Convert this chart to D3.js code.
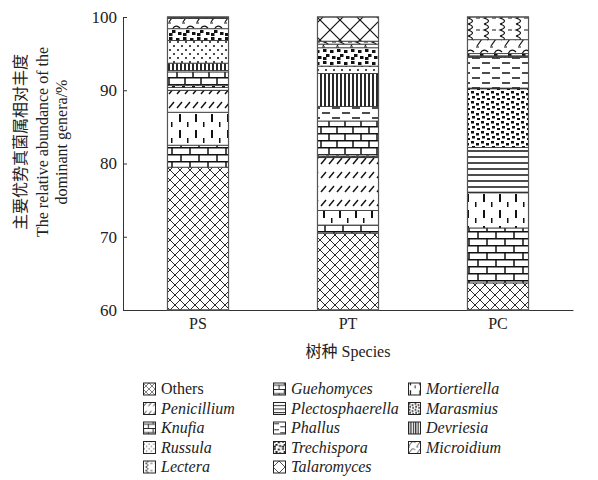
<!DOCTYPE html>
<html>
<head>
<meta charset="utf-8">
<script src="https://cdn.jsdelivr.net/npm/d3@7"></script>
<style>
body { margin: 0; background: #fff; }
text { font-family: "Liberation Serif", "Noto Sans CJK SC", serif; fill: #222; }
</style>
</head>
<body>
<div id="chart"></div>
<script>
// stacking order, bottom to top
const species = ["PS", "PT", "PC"]
const genera = ["Others", "Guehomyces", "Mortierella", "Penicillium", "Plectosphaerella", "Marasmius",
    "Knufia", "Phallus", "Devriesia", "Russula", "Trechispora", "Microidium", "Lectera", "Talaromyces"]
const psValues = [79.5, 3.0, 4.5, 3.0, 0.4, 0.3, 1.8, 0.2, 1.0, 3.1, 1.6, 1.4, 0.1, 0.1]
const ptValues = [70.5, 1.1, 2.0, 7.2, 0.2, 0.2, 4.6, 2.0, 4.5, 1.0, 2.5, 0.5, 0.4, 3.3]
const pcValues = [63.7, 7.5, 4.8, 0.1, 6.1, 8.0, 0.1, 4.2, 0.1, 0.1, 0.3, 1.9, 3.1, 0.0]
const legendOrder = ["Others", "Penicillium", "Knufia", "Russula", "Lectera",
    "Guehomyces", "Plectosphaerella", "Phallus", "Trechispora", "Talaromyces",
    "Mortierella", "Marasmius", "Devriesia", "Microidium"]
const yTicks = [60, 70, 80, 90, 100]

const w = 598, h = 480
const plotLeft = 123, plotRight = 573, plotTop = 17, plotBottom = 310

var svg = d3.select("#chart").append("svg")
    .attr("width", w)
    .attr("height", h)

var defs = svg.append("defs")

// hatch patterns, one per genus
var patternDraw = {
    Others: [10, 10, g => g.append("path").attr("d", "M0,0L10,10M10,0L0,10").attr("stroke-width", 0.9)],
    Talaromyces: [20, 20, g => g.append("path").attr("d", "M0,0L20,20M20,0L0,20").attr("stroke-width", 1.2)],
    Guehomyces: [18, 14, g => g.append("path").attr("d", "M0,0.75H18M0,7.75H18M1,0V7.5M10,7.5V14").attr("stroke-width", 1.5)],
    Knufia: [16, 14, g => g.append("path").attr("d", "M0,0.75H16M0,7.75H16M1,0V7.5M9,7.5V14").attr("stroke-width", 1.5)],
    Mortierella: [16, 16, g => {
        g.append("rect").attr("x", 3).attr("y", 2).attr("width", 2).attr("height", 8).attr("fill", "#111").attr("stroke", "none")
        g.append("rect").attr("x", 11).attr("y", 10).attr("width", 1.5).attr("height", 5).attr("fill", "#111").attr("stroke", "none")
    }],
    Penicillium: [8, 14, g => g.append("path").attr("d", "M1,10L6,4").attr("stroke-width", 1.4)],
    Plectosphaerella: [4, 6, g => g.append("path").attr("d", "M0,1H4").attr("stroke-width", 1.5)],
    Phallus: [20, 10, g => g.append("path").attr("d", "M2,3H10M12,8H20").attr("stroke-width", 1.5)],
    Devriesia: [4, 4, g => g.append("path").attr("d", "M1,0V4").attr("stroke-width", 1.8)],
    Russula: [8, 8, g => {
        g.append("circle").attr("cx", 2).attr("cy", 2).attr("r", 1).attr("fill", "#111").attr("stroke", "none")
        g.append("circle").attr("cx", 6).attr("cy", 6).attr("r", 1).attr("fill", "#111").attr("stroke", "none")
    }],
    Marasmius: [10, 10, g => {
        [[1, 1], [6, 3], [2, 6], [7, 8]].forEach(p =>
            g.append("rect").attr("x", p[0]).attr("y", p[1]).attr("width", 3).attr("height", 2.5).attr("fill", "#111").attr("stroke", "none"))
    }],
    Trechispora: [14, 12, g => {
        [[1, 1], [8, 2], [4, 6], [10, 8], [1, 9]].forEach(p =>
            g.append("rect").attr("x", p[0]).attr("y", p[1]).attr("width", 3.5).attr("height", 3).attr("fill", "#111").attr("stroke", "none"))
    }],
    Microidium: [14, 12, g => g.append("path").attr("d", "M1,10L6,3Q9,1 12,4M0,11H3").attr("stroke-width", 1.2)],
    Lectera: [16, 12, g => g.append("path").attr("d", "M4,0Q13,3 4,6Q13,9 4,12M12,6H16").attr("stroke-width", 1.2)]
}

function makePattern(id, name, scale) {
    var spec = patternDraw[name]
    var p = defs.append("pattern")
        .attr("id", id)
        .attr("patternUnits", "userSpaceOnUse")
        .attr("width", spec[0])
        .attr("height", spec[1])
    if (scale) p.attr("patternTransform", "scale(" + scale + ")")
    p.append("rect").attr("width", spec[0]).attr("height", spec[1]).attr("fill", "#fff")
    var g = p.append("g").attr("stroke", "#111").attr("fill", "none")
    spec[2](g)
}

genera.forEach((name, i) => {
    makePattern("p" + i, name)
    makePattern("pl" + i, name, 0.6)
})

// data table for d3.stack
var valuesBySpecies = [psValues, ptValues, pcValues]
var table = species.map((s, si) => {
    var row = { species: s }
    genera.forEach((name, gi) => row[name] = valuesBySpecies[si][gi])
    return row
})
var series = d3.stack().keys(genera)(table)

var x = d3.scaleBand()
    .domain(species)
    .range([plotLeft, plotRight])
    .paddingInner(0.593)
    .paddingOuter(0.2965)

var y = d3.scaleLinear()
    .domain([60, 100])
    .range([plotBottom, plotTop])

// axes
var yAxis = svg.append("g")
    .attr("transform", "translate(" + plotLeft + ",0)")
    .call(d3.axisLeft(y).tickValues(yTicks).tickSizeInner(-4).tickSizeOuter(0).tickPadding(6))
yAxis.selectAll("text").style("font-size", "17px").style("font-family", "Liberation Serif")

var xAxis = svg.append("g")
    .attr("transform", "translate(0," + plotBottom + ")")
    .call(d3.axisBottom(x).tickSizeInner(-4).tickSizeOuter(0).tickPadding(8))
xAxis.selectAll("text").style("font-size", "16px").style("font-family", "Liberation Serif")
svg.selectAll(".domain, .tick line").attr("stroke", "#333")

// stacked bars
svg.append("g")
    .selectAll("g")
    .data(series)
    .enter()
    .append("g")
    .attr("fill", (d, i) => "url(#p" + i + ")")
    .selectAll("rect")
    .data(d => d.filter(v => v[1] - v[0] > 0))
    .enter()
    .append("rect")
    .attr("x", d => x(d.data.species))
    .attr("width", x.bandwidth())
    .attr("y", d => y(d[1]))
    .attr("height", d => y(Math.max(d[0], 60)) - y(d[1]))
    .attr("stroke", "#333")
    .attr("stroke-width", 0.8)

svg.append("g")
    .selectAll("rect")
    .data(species)
    .enter()
    .append("rect")
    .attr("x", d => x(d))
    .attr("width", x.bandwidth())
    .attr("y", y(100))
    .attr("height", y(60) - y(100))
    .attr("fill", "none")
    .attr("stroke", "#555")
    .attr("stroke-width", 1.2)

// axis titles
svg.append("text")
    .attr("x", (plotLeft + plotRight) / 2)
    .attr("y", 357)
    .attr("text-anchor", "middle")
    .style("font-size", "16px")
    .text("树种 Species")

var yTitle = svg.append("text")
    .attr("transform", "translate(0,142) rotate(-90)")
    .attr("text-anchor", "middle")
    .style("font-size", "16px")
yTitle.append("tspan").attr("x", 0).attr("y", 26).text("主要优势真菌属相对丰度")
yTitle.append("tspan").attr("x", 0).attr("y", 48).text("The relative abundance of the")
yTitle.append("tspan").attr("x", 0).attr("y", 67).text("dominant genera/%")

// legend, filled column by column
var colX = [143, 273, 408]
var legend = svg.append("g")
    .selectAll("g")
    .data(legendOrder)
    .enter()
    .append("g")
    .attr("transform", (d, i) => "translate(" + colX[Math.floor(i / 5)] + "," + (389 + (i % 5) * 19.5) + ")")

legend.append("rect")
    .attr("x", 0.5)
    .attr("y", -6)
    .attr("width", 12)
    .attr("height", 12)
    .attr("fill", d => "url(#pl" + genera.indexOf(d) + ")")
    .attr("stroke", "#222")
    .attr("stroke-width", 1)

legend.append("text")
    .attr("x", 18)
    .attr("y", 5)
    .style("font-size", "16px")
    .style("font-style", d => d === "Others" ? "normal" : "italic")
    .text(d => d)
</script>
</body>
</html>
